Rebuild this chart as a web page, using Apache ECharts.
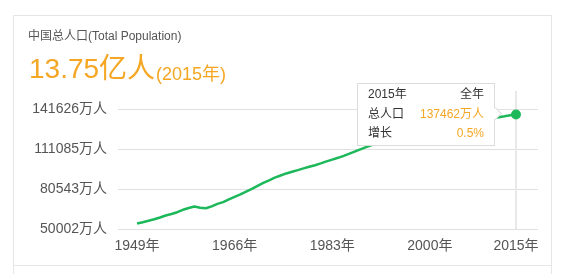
<!DOCTYPE html>
<html>
<head>
<meta charset="utf-8">
<script src="https://cdn.jsdelivr.net/npm/echarts@6/dist/echarts.min.js"></script>
<style>
html,body{margin:0;padding:0;background:#fff;width:576px;height:274px;overflow:hidden;}
#chart{position:absolute;left:0;top:0;width:576px;height:274px;}
.bd{position:absolute;background:#e6e6e6;}
</style>
</head>
<body>
<div class="bd" style="left:13px;top:15px;width:539px;height:1px;"></div>
<div class="bd" style="left:13px;top:15px;width:1px;height:259px;"></div>
<div class="bd" style="left:551px;top:15px;width:1px;height:259px;"></div>
<div class="bd" style="left:13px;top:265px;width:539px;height:1px;"></div>
<div id="chart"></div>
<script>
// Years and total population (万人)
var years = [1949,1950,1951,1952,1953,1954,1955,1956,1957,1958,1959,1960,1961,1962,1963,1964,1965,1966,1967,1968,1969,1970,1971,1972,1973,1974,1975,1976,1977,1978,1979,1980,1981,1982,1983,1984,1985,1986,1987,1988,1989,1990,1991,1992,1993,1994,1995,1996,1997,1998,1999,2000,2001,2002,2003,2004,2005,2006,2007,2008,2009,2010,2011,2012,2013,2014,2015];
var population = [54167,55196,56300,57482,58796,60266,61465,62828,64653,65994,67207,66207,65859,67295,69172,70499,72538,74542,76368,78534,80671,82992,85229,87177,89211,90859,92420,93717,94974,96259,97542,98705,100072,101654,103008,104357,105851,107507,109300,111026,112704,114333,115823,117171,118517,119850,121121,122389,123626,124761,125786,126743,127627,128453,129227,129988,130756,131448,132129,132802,133450,134091,134735,135404,136072,136782,137462];
var xTickYears = [1949,1966,1983,2000,2015];
var yTickMin = 50002;
var yTickMax = 141626;

var FONT = '"Liberation Sans", Arial, "Noto Sans CJK SC", sans-serif';
var ORANGE = '#f5a623';
var GREEN = '#1cb85a';

var yInterval = (yTickMax - yTickMin) / 3;
var yAxisMax = yTickMin + yInterval * 3.45;

var seriesData = years.map(function (y, i) {
  var item = { value: [y, population[i]] };
  if (i === years.length - 1) {
    item.symbol = 'circle';
    item.symbolSize = 9;
  }
  return item;
});

var chart = echarts.init(document.getElementById('chart'), null, { renderer: 'canvas' });
chart.setOption({
  animation: false,
  graphic: [
    { type: 'text', left: 28, top: 31, style: { text: '中国总人口(Total Population)', font: '12px ' + FONT, fill: '#555' } },
    { type: 'text', x: 29, y: 70, style: { text: '13.75亿人', font: '28px ' + FONT, fill: ORANGE, verticalAlign: 'middle' } },
    { type: 'text', x: 156, y: 75, style: { text: '(2015年)', font: '18px ' + FONT, fill: ORANGE, verticalAlign: 'middle' } }
  ],
  grid: { left: 118, right: 38, top: 91, bottom: 45, containLabel: false, outerBoundsMode: 'none' },
  tooltip: {
    trigger: 'axis',
    triggerOn: 'none',
    alwaysShowContent: true,
    transitionDuration: 0,
    backgroundColor: '#fff',
    borderColor: '#dcdcdc',
    borderWidth: 1,
    padding: [1, 10],
    extraCssText: 'box-shadow:none;border-radius:0;',
    position: function () { return [357, 83]; },
    axisPointer: { type: 'line', z: 1, lineStyle: { color: '#e8e8e8', width: 2, type: 'solid' }, label: { show: false } },
    formatter: function (params) {
      var p = params[0];
      var i = p.dataIndex;
      var v = population[i];
      var g = i > 0 ? ((v - population[i - 1]) / population[i - 1] * 100).toFixed(1) + '%' : '-';
      var row = 'display:flex;justify-content:space-between;';
      return '<div style="position:relative;width:116px;font-size:12px;line-height:19.5px;color:#333;font-family:' + FONT.replace(/"/g, "'") + '">' +
        '<div style="' + row + '"><span>' + years[i] + '年</span><span>全年</span></div>' +
        '<div style="' + row + '"><span>总人口</span><span style="color:' + ORANGE + '">' + v + '万人</span></div>' +
        '<div style="' + row + '"><span>增长</span><span style="color:' + ORANGE + '">' + g + '</span></div>' +
        '</div>' +
        '<div style="position:absolute;right:-6px;top:calc(50% - 5px);width:9px;height:9px;box-sizing:border-box;background:#fff;border-top:1px solid #dcdcdc;border-right:1px solid #dcdcdc;transform:rotate(45deg);"></div>';
    }
  },
  xAxis: {
    type: 'value',
    min: 1945.69,
    max: 2018.83,
    axisLine: { show: false },
    axisTick: { show: false },
    splitLine: { show: false },
    axisLabel: {
      customValues: xTickYears,
      formatter: function (v) { return v + '年'; },
      color: '#555',
      fontSize: 14,
      fontFamily: FONT,
      margin: 10
    }
  },
  yAxis: {
    type: 'value',
    min: yTickMin,
    max: yAxisMax,
    interval: yInterval,
    axisLine: { show: false },
    axisTick: { show: false },
    splitLine: { show: true, showMinLine: true, showMaxLine: false, lineStyle: { color: '#e0e0e0', width: 1 } },
    axisLabel: {
      showMaxLabel: false,
      formatter: function (v) { return Math.round(v) + '万人'; },
      color: '#555',
      fontSize: 14,
      fontFamily: FONT,
      margin: 11
    }
  },
  series: [{
    type: 'line',
    data: seriesData,
    symbol: 'none',
    showSymbol: true,
    lineStyle: { color: GREEN, width: 2.5 },
    itemStyle: { color: GREEN },
    emphasis: { disabled: true },
    z: 3,
    zlevel: 1
  }]
});
chart.dispatchAction({ type: 'showTip', seriesIndex: 0, dataIndex: years.length - 1 });
</script>
</body>
</html>
